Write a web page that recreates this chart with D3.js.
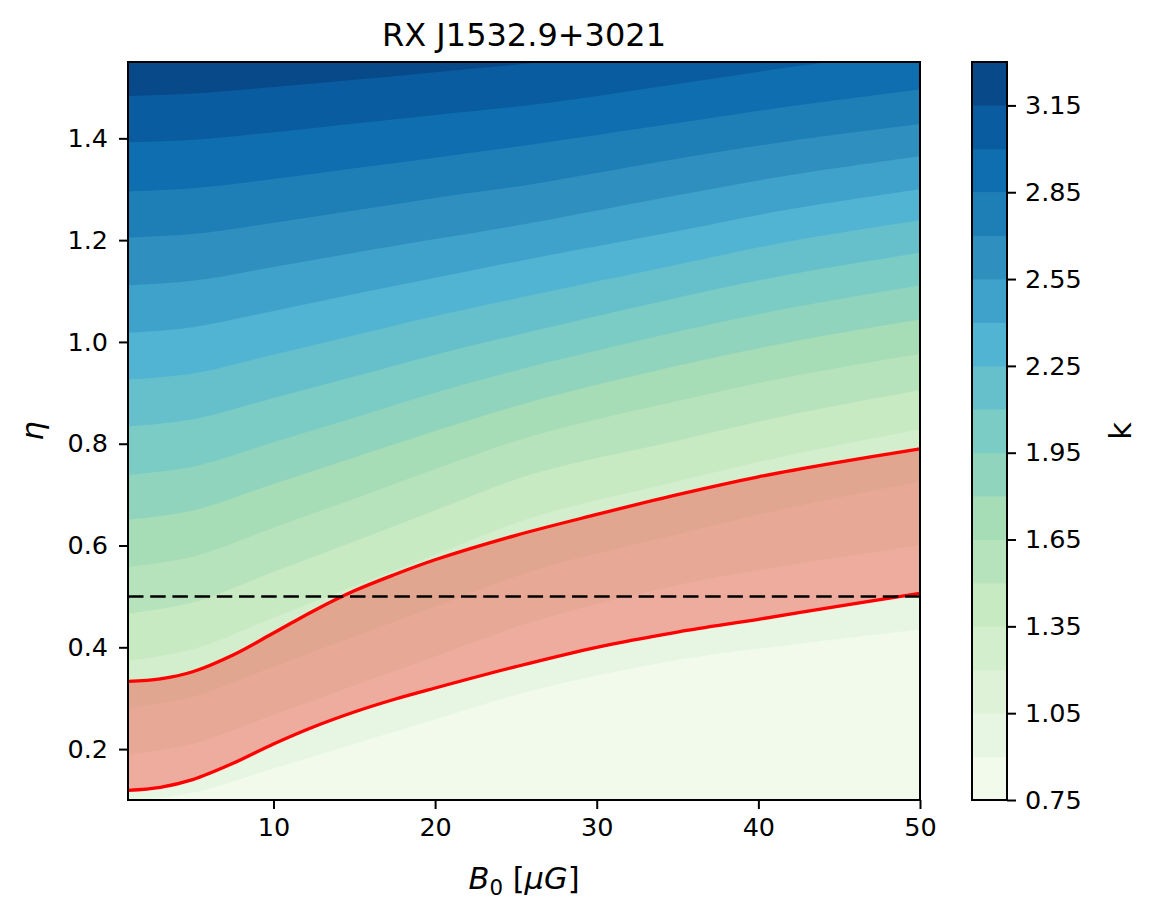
<!DOCTYPE html>
<html>
<head>
<meta charset="utf-8">
<script src="https://cdn.jsdelivr.net/npm/d3@7"></script>
<style>
  body { margin: 0; background: #fff; }
  text { font-family: "DejaVu Sans", sans-serif; }
</style>
</head>
<body>
<svg id="chart"></svg>
<script>
// B0 sample columns for the contour boundaries
const bColumns = [1, 5, 10, 15, 20, 26, 35, 42, 50];

// contour levels of k (band edges)
const kLevels = [0.75, 0.90, 1.05, 1.20, 1.35, 1.50, 1.65, 1.80, 1.95, 2.10,
  2.25, 2.40, 2.55, 2.70, 2.85, 3.00, 3.15, 3.30];

// eta of each contour line at the bColumns
const eta090 = [0.097, 0.114, 0.162, 0.210, 0.258, 0.315, 0.375, 0.405, 0.435];
const eta105 = [0.189, 0.210, 0.267, 0.325, 0.382, 0.450, 0.522, 0.562, 0.600];
const eta120 = [0.281, 0.303, 0.362, 0.421, 0.480, 0.550, 0.622, 0.675, 0.726];
const eta135 = [0.373, 0.396, 0.458, 0.520, 0.582, 0.655, 0.726, 0.778, 0.828];
const eta150 = [0.466, 0.488, 0.548, 0.608, 0.669, 0.740, 0.806, 0.857, 0.905];
const eta165 = [0.558, 0.578, 0.635, 0.692, 0.750, 0.815, 0.884, 0.932, 0.977];
const eta180 = [0.651, 0.669, 0.721, 0.773, 0.825, 0.883, 0.953, 1.000, 1.044];
const eta195 = [0.739, 0.755, 0.803, 0.851, 0.900, 0.952, 1.020, 1.067, 1.111];
const eta210 = [0.834, 0.848, 0.890, 0.932, 0.975, 1.021, 1.087, 1.133, 1.175];
const eta225 = [0.926, 0.938, 0.975, 1.013, 1.051, 1.092, 1.152, 1.198, 1.239];
const eta240 = [1.018, 1.029, 1.061, 1.094, 1.126, 1.164, 1.218, 1.261, 1.300];
const eta255 = [1.111, 1.120, 1.147, 1.175, 1.202, 1.234, 1.288, 1.328, 1.365];
const eta270 = [1.205, 1.212, 1.234, 1.258, 1.283, 1.310, 1.360, 1.395, 1.428];
const eta285 = [1.296, 1.302, 1.320, 1.341, 1.362, 1.388, 1.430, 1.463, 1.496];
const eta300 = [1.392, 1.397, 1.412, 1.429, 1.446, 1.466, 1.507, 1.540, 1.575];
const eta315 = [1.483, 1.488, 1.501, 1.515, 1.530, 1.548, 1.580, 1.610, 1.640];

const contourLines = [eta090, eta105, eta120, eta135, eta150, eta165, eta180, eta195,
  eta210, eta225, eta240, eta255, eta270, eta285, eta300, eta315];

// allowed region (red band)
const bandB = [1, 3, 5, 7.5, 10, 12.5, 15, 17.5, 20, 25, 30, 35, 40, 45, 50];
const bandUpper = [0.333, 0.338, 0.352, 0.385, 0.428, 0.472, 0.511, 0.543, 0.572, 0.620, 0.661, 0.700, 0.735, 0.764, 0.790];
const bandLower = [0.119, 0.125, 0.140, 0.172, 0.210, 0.244, 0.273, 0.298, 0.320, 0.362, 0.400, 0.430, 0.455, 0.481, 0.506];

const etaRef = 0.5;

const xTicks = [10, 20, 30, 40, 50];
const yTicks = [0.2, 0.4, 0.6, 0.8, 1.0, 1.2, 1.4];
const cbarTicks = [0.75, 1.05, 1.35, 1.65, 1.95, 2.25, 2.55, 2.85, 3.15];

// GnBu colormap anchors (matplotlib)
const gnbu = ["#f7fcf0", "#e0f3db", "#ccebc5", "#a8ddb5", "#7bccc4",
  "#4eb3d3", "#2b8cbe", "#0868ac", "#084081"];

const margin = {top: 62, left: 128},
  width = 792,
  height = 738;

const fontTick = 25.5,
  fontLabel = 30.5;

const cmap = d3.scaleLinear()
  .domain(d3.range(gnbu.length).map(i => i / (gnbu.length - 1)))
  .range(gnbu)
  .interpolate(d3.interpolateRgb);

const nBands = kLevels.length - 1;
const bandColor = d3.range(nBands).map(function (i) {
  const t = (i + 0.5) / nBands;
  const idx = Math.min(255, Math.floor(t * 256));
  return cmap(idx / 255);
});

const svg = d3.select("#chart")
  .attr("width", 1153)
  .attr("height", 917);

const x = d3.scaleLinear().domain([1, 50]).range([0, width]);
const y = d3.scaleLinear().domain([0.1, 1.55]).range([height, 0]);

const smooth = d3.curveCatmullRom.alpha(0.5);

const g = svg.append("g")
  .attr("transform", "translate(" + margin.left + "," + margin.top + ")");

g.append("clipPath").attr("id", "plot-clip")
  .append("rect").attr("width", width).attr("height", height);

const plot = g.append("g").attr("clip-path", "url(#plot-clip)");

// top band fills the whole area, lower bands painted on top of it
plot.append("rect")
  .attr("width", width)
  .attr("height", height)
  .attr("fill", bandColor[nBands - 1]);

const bandArea = d3.area()
  .x((d, i) => x(bColumns[i]))
  .y0(height)
  .y1(d => y(d))
  .curve(smooth);

for (let j = contourLines.length - 1; j >= 0; j--) {
  plot.append("path")
    .datum(contourLines[j])
    .attr("fill", bandColor[j])
    .attr("d", bandArea);
}

// red band between the two limits
const redArea = d3.area()
  .x((d, i) => x(bandB[i]))
  .y0((d, i) => y(bandLower[i]))
  .y1(d => y(d))
  .curve(smooth);

plot.append("path")
  .datum(bandUpper)
  .attr("fill", "red")
  .attr("fill-opacity", 0.3)
  .attr("d", redArea);

const redLine = d3.line()
  .x((d, i) => x(bandB[i]))
  .y(d => y(d))
  .curve(smooth);

[bandUpper, bandLower].forEach(function (s) {
  plot.append("path")
    .datum(s)
    .attr("fill", "none")
    .attr("stroke", "red")
    .attr("stroke-width", 3.3)
    .attr("d", redLine);
});

// eta = 0.5 reference
plot.append("line")
  .attr("x1", x(1)).attr("x2", x(50))
  .attr("y1", y(etaRef)).attr("y2", y(etaRef))
  .attr("stroke", "black")
  .attr("stroke-width", 2.5)
  .attr("stroke-dasharray", "15.5,6.7");

// axes
const xAxis = g.append("g")
  .attr("transform", "translate(0," + height + ")")
  .call(d3.axisBottom(x).tickValues(xTicks).tickSize(9).tickPadding(9));

const yAxis = g.append("g")
  .call(d3.axisLeft(y).tickValues(yTicks).tickFormat(d3.format(".1f")).tickSize(9).tickPadding(11));

[xAxis, yAxis].forEach(function (a) {
  a.select(".domain").remove();
  a.selectAll("line").attr("stroke", "black").attr("stroke-width", 2);
  a.selectAll("text").attr("font-size", fontTick).attr("fill", "black")
    .attr("font-family", "DejaVu Sans");
});

g.append("rect")
  .attr("width", width)
  .attr("height", height)
  .attr("fill", "none")
  .attr("stroke", "black")
  .attr("stroke-width", 2);

// colorbar
const cbar = svg.append("g").attr("transform", "translate(972," + margin.top + ")");
const c = d3.scaleLinear().domain([kLevels[0], kLevels[kLevels.length - 1]]).range([height, 0]);

cbar.selectAll("rect.band")
  .data(d3.range(nBands))
  .enter().append("rect")
  .attr("class", "band")
  .attr("x", 0)
  .attr("width", 35)
  .attr("y", i => c(kLevels[i + 1]))
  .attr("height", i => c(kLevels[i]) - c(kLevels[i + 1]) + 0.5)
  .attr("fill", i => bandColor[i]);

cbar.append("rect")
  .attr("width", 35)
  .attr("height", height)
  .attr("fill", "none")
  .attr("stroke", "black")
  .attr("stroke-width", 2);

const cAxis = cbar.append("g")
  .attr("transform", "translate(35,0)")
  .call(d3.axisRight(c).tickValues(cbarTicks).tickFormat(d3.format(".2f")).tickSize(9).tickPadding(9));
cAxis.select(".domain").remove();
cAxis.selectAll("line").attr("stroke", "black").attr("stroke-width", 2);
cAxis.selectAll("text").attr("font-size", fontTick).attr("fill", "black")
  .attr("font-family", "DejaVu Sans");

// labels
svg.append("text")
  .attr("x", margin.left + width / 2)
  .attr("y", 46)
  .attr("text-anchor", "middle")
  .attr("font-size", 32)
  .text("RX J1532.9+3021");

const xl = svg.append("text")
  .attr("x", margin.left + width / 2)
  .attr("y", 889)
  .attr("text-anchor", "middle")
  .attr("font-size", fontLabel);
xl.append("tspan").attr("font-style", "italic").text("B");
xl.append("tspan").attr("font-size", fontLabel * 0.7).attr("dy", 6).text("0");
xl.append("tspan").attr("dy", -6).text(" [");
xl.append("tspan").attr("font-style", "italic").text("μG");
xl.append("tspan").text("]");

svg.append("text")
  .attr("transform", "translate(43,431) rotate(-90)")
  .attr("text-anchor", "middle")
  .attr("font-size", fontLabel)
  .attr("font-style", "italic")
  .text("η");

svg.append("text")
  .attr("transform", "translate(1131,431) rotate(-90)")
  .attr("text-anchor", "middle")
  .attr("font-size", fontLabel)
  .text("k");
</script>
</body>
</html>
